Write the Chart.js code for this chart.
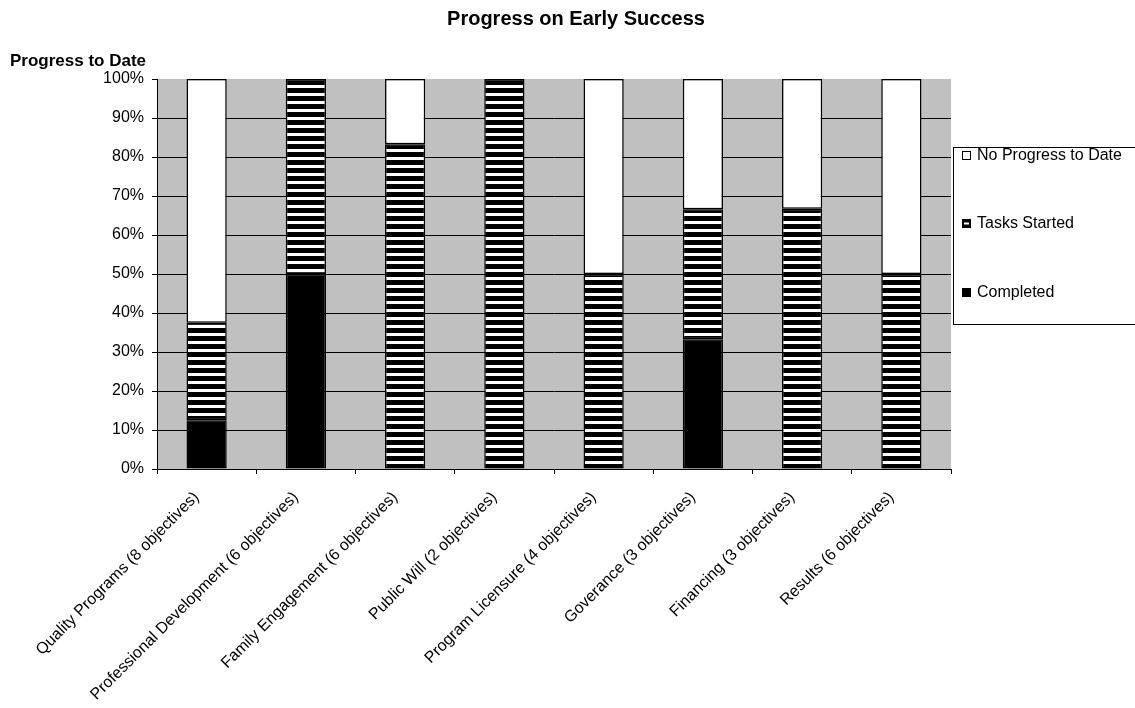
<!DOCTYPE html>
<html>
<head>
<meta charset="utf-8">
<script src="https://cdn.jsdelivr.net/npm/chart.js@4.4.1/dist/chart.umd.min.js"></script>
<style>
  html, body { margin: 0; padding: 0; background: #fff; }
  #wrap { width: 1135px; height: 708px; position: relative; }
</style>
</head>
<body>
<div id="wrap"><canvas id="progress"></canvas></div>
<script>
const categories = [
  "Quality Programs (8 objectives)",
  "Professional Development (6 objectives)",
  "Family Engagement (6 objectives)",
  "Public Will (2 objectives)",
  "Program Licensure (4 objectives)",
  "Goverance (3 objectives)",
  "Financing (3 objectives)",
  "Results (6 objectives)"
];
const completed = [12.5, 50, 0, 0, 0, 33.3, 0, 0];
const tasksStarted = [25, 50, 83.3, 100, 50, 33.3, 66.7, 50];
const noProgress = [62.5, 0, 16.7, 0, 50, 33.4, 33.3, 50];
const yTicks = [0, 10, 20, 30, 40, 50, 60, 70, 80, 90, 100];

const FONT = "'Liberation Sans', Arial, sans-serif";

// horizontal black/white stripes
function stripes() {
  const c = document.createElement("canvas");
  c.width = 8; c.height = 8;
  const g = c.getContext("2d");
  g.fillStyle = "#000";
  g.fillRect(0, 0, 8, 8);
  g.fillStyle = "#fff";
  g.fillRect(0, 5, 8, 3);
  return g.createPattern(c, "repeat");
}
const stripePattern = stripes();

const bw = ctx => (ctx.raw ? 1.5 : 0);

// gray plot background, titles and boxed legend
const decor = {
  id: "decor",
  beforeDraw(chart) {
    const { ctx, chartArea: a } = chart;
    ctx.save();
    ctx.fillStyle = "#c0c0c0";
    ctx.fillRect(a.left, a.top, a.right - a.left, a.bottom - a.top);
    ctx.restore();
  },
  afterDraw(chart) {
    const { ctx } = chart;
    ctx.save();
    ctx.fillStyle = "#000";
    ctx.textBaseline = "middle";
    ctx.font = "bold 20px " + FONT;
    ctx.textAlign = "center";
    ctx.fillText("Progress on Early Success", 576, 19);
    ctx.font = "bold 17px " + FONT;
    ctx.textAlign = "left";
    ctx.fillText("Progress to Date", 10, 61);

    // legend
    ctx.strokeStyle = "#000";
    ctx.lineWidth = 1;
    ctx.strokeRect(953.5, 147.5, 200, 177);
    const items = [
      { text: "No Progress to Date", fill: "#fff", y: 155 },
      { text: "Tasks Started", fill: "stripe", y: 223 },
      { text: "Completed", fill: "#000", y: 292 }
    ];
    ctx.font = "16px " + FONT;
    items.forEach(it => {
      const x = 962, y = it.y - 4;
      if (it.fill === "stripe") {
        ctx.fillStyle = "#000";
        ctx.fillRect(x, y, 9, 9);
        ctx.fillStyle = "#fff";
        ctx.fillRect(x + 2, y + 3.5, 5, 2);
      } else {
        ctx.fillStyle = it.fill;
        ctx.fillRect(x, y, 9, 9);
        ctx.strokeRect(x + 0.5, y + 0.5, 8, 8);
      }
      ctx.fillStyle = "#000";
      ctx.fillText(it.text, 977, it.y + 1);
    });
    ctx.restore();
  }
};

new Chart(document.getElementById("progress"), {
  type: "bar",
  data: {
    labels: categories,
    datasets: [
      {
        label: "Completed",
        data: completed,
        backgroundColor: "#000",
        borderColor: "#000",
        borderWidth: bw,
        borderSkipped: false
      },
      {
        label: "Tasks Started",
        data: tasksStarted,
        backgroundColor: stripePattern,
        borderColor: "#000",
        borderWidth: bw,
        borderSkipped: false
      },
      {
        label: "No Progress to Date",
        data: noProgress,
        backgroundColor: "#fff",
        borderColor: "#000",
        borderWidth: bw,
        borderSkipped: false
      }
    ]
  },
  options: {
    responsive: true,
    maintainAspectRatio: false,
    animation: false,
    categoryPercentage: 1,
    barPercentage: 0.405,
    layout: { padding: { top: 79, right: 184, left: 0, bottom: 0 } },
    plugins: {
      legend: { display: false },
      title: { display: false },
      tooltip: { enabled: false }
    },
    scales: {
      x: {
        stacked: true,
        afterFit: s => { s.height = 708 - 79 - 390; },
        grid: {
          offset: true,
          drawOnChartArea: false,
          color: "#000",
          tickLength: 5
        },
        border: { color: "#000", width: 1 },
        ticks: {
          color: "#000",
          font: { family: FONT, size: 16 },
          minRotation: 45,
          maxRotation: 45,
          autoSkip: false,
          padding: 14,
          labelOffset: -10
        }
      },
      y: {
        stacked: true,
        min: 0,
        max: 100,
        afterFit: s => { s.width = 157; },
        afterBuildTicks: s => { s.ticks = yTicks.map(v => ({ value: v })); },
        grid: {
          color: ctx => (ctx.tick && ctx.tick.value === 100 ? "rgba(0,0,0,0)" : "#000"),
          tickColor: "#000",
          tickLength: 5
        },
        border: { color: "#000", width: 1 },
        ticks: {
          color: "#000",
          font: { family: FONT, size: 16 },
          padding: 8,
          callback: v => v + "%"
        }
      }
    }
  },
  plugins: [decor]
});
</script>
</body>
</html>
